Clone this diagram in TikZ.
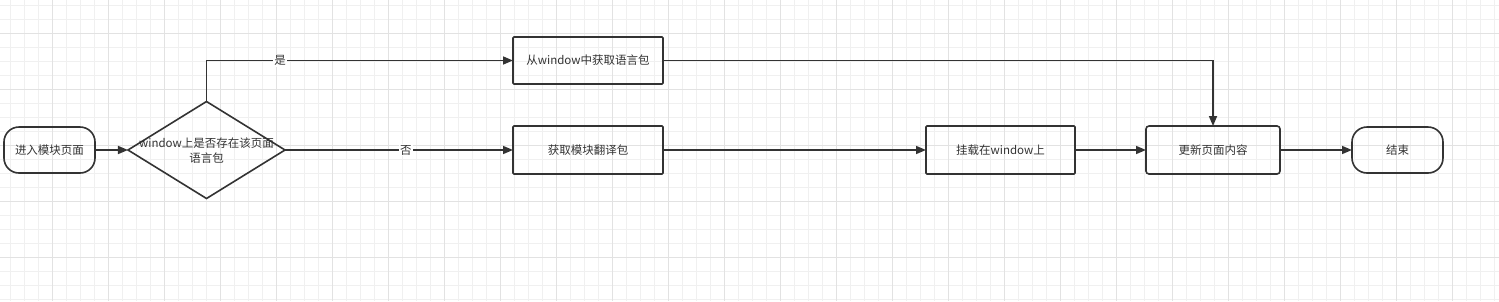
\documentclass[tikz,border=0pt]{standalone}
\usepackage{fontspec}
\setmainfont{Noto Sans CJK SC}
\usetikzlibrary{positioning,shapes.geometric,arrows.meta}
\definecolor{ink}{HTML}{333333}
\definecolor{gridminor}{HTML}{F0F0F0}
\definecolor{gridmajor}{HTML}{E2E2E2}

\begin{document}
\begin{tikzpicture}[every node/.style={font=\fontsize{11.5}{15}\selectfont, text=ink}, terminal/.style={draw=ink, line width=1.6pt, rounded corners=15pt, minimum width=91pt, minimum height=46pt, inner sep=0pt, outer sep=0pt}, proc/.style={draw=ink, line width=1.6pt, rounded corners=1pt, minimum width=150pt, minimum height=48pt, inner sep=0pt, outer sep=0pt}, decision/.style={diamond, draw=ink, line width=1.6pt, minimum width=157pt, minimum height=97pt, inner sep=0pt, outer sep=0pt}, arr/.style={-{Triangle[length=10pt,width=8pt]}, draw=ink, line width=1.6pt}, lbl/.style={fill=white, inner sep=1pt}]
    % background grid
    \fill[white] (0,0) rectangle (1499pt,-301pt);
    \useasboundingbox (0,0) rectangle (1499pt,-301pt);
    \foreach \k in {0,...,106} \draw[gridminor, line width=0.8pt] ({10pt+14pt*\k},0) -- ({10pt+14pt*\k},-301pt);
    \foreach \k in {0,...,21} \draw[gridminor, line width=0.8pt] (0,{-5pt-14pt*\k}) -- (1499pt,{-5pt-14pt*\k});
    \foreach \k in {0,...,25} \draw[gridmajor, line width=0.8pt] ({52pt+56pt*\k},0) -- ({52pt+56pt*\k},-301pt);
    \foreach \k in {0,...,4} \draw[gridmajor, line width=0.8pt] (0,{-33pt-56pt*\k}) -- (1499pt,{-33pt-56pt*\k});

    % flow
    \node[terminal] (start) at (49.5pt,-150pt) {进入模块页面};
    \node[decision, right=33pt of start] (check) {};
    \node[align=center] (checktxt) at ([yshift=-1pt]check.center) {window上是否存在该页面\\语言包};
    \node[proc, right=228pt of check] (fetch) {获取模块翻译包};
    \node[proc, minimum height=47pt, above=42pt of fetch] (fromwin) {从window中获取语言包};
    \node[proc, minimum width=149pt, right=263pt of fetch] (mount) {挂载在window上};
    \node[proc, rounded corners=3pt, minimum width=134pt, right=71pt of mount] (update) {更新页面内容};
    \node[terminal, right=72pt of update] (finish) {结束};

    \draw[arr] (start) -- (check);
    \draw[arr] (check.north) |- node[lbl, pos=0.62] {是} (fromwin);
    \draw[arr] (check) -- node[lbl, pos=0.53] {否} (fetch);
    \draw[arr] (fetch) -- (mount);
    \draw[arr] (mount) -- (update);
    \draw[arr] (fromwin) -| (update);
    \draw[arr] (update) -- (finish);
\end{tikzpicture}
\end{document}
